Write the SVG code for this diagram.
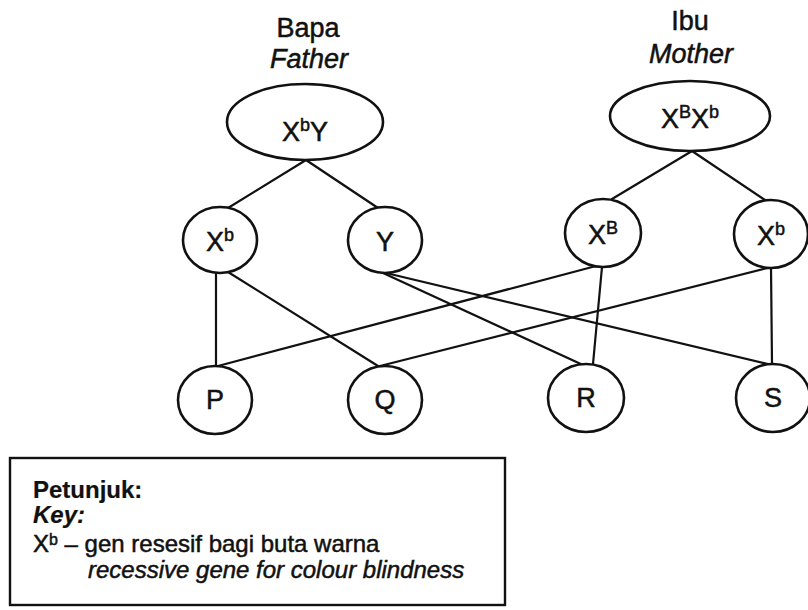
<svg xmlns="http://www.w3.org/2000/svg" width="808" height="610" viewBox="0 0 808 610">
<style>
.shape{fill:#fff;stroke:#111;stroke-width:2.6}
.ln{stroke:#111;stroke-width:2.2;fill:none;stroke-linecap:round}
text{font-family:"Liberation Sans",Arial,sans-serif;fill:#111;stroke:#111;stroke-width:0.5}
.node{font-size:27px;text-anchor:middle}
.title{font-size:27px;text-anchor:middle}
.it{font-style:italic}
.key{font-size:24px}
.b{font-weight:bold;stroke-width:0.2}
</style>
<rect width="808" height="610" fill="#fff"/>
<g id="labels">
<text class="title" x="308" y="37">Bapa</text>
<text class="title it" x="309" y="68">Father</text>
<text class="title" x="690" y="30">Ibu</text>
<text class="title it" x="691" y="63">Mother</text>
</g>
<g id="connectors">
<line class="ln" x1="306" y1="160" x2="228" y2="208"/>
<line class="ln" x1="306" y1="160" x2="378" y2="208"/>
<line class="ln" x1="692" y1="151" x2="612" y2="199"/>
<line class="ln" x1="692" y1="151" x2="765" y2="200"/>
<line class="ln" x1="216" y1="273" x2="216" y2="366"/>
<line class="ln" x1="228" y1="272" x2="378" y2="366"/>
<line class="ln" x1="383" y1="273" x2="583" y2="365"/>
<line class="ln" x1="386" y1="273" x2="768" y2="364"/>
<line class="ln" x1="596" y1="266" x2="218" y2="366"/>
<line class="ln" x1="602" y1="267" x2="593" y2="364"/>
<line class="ln" x1="771" y1="267" x2="380" y2="366"/>
<line class="ln" x1="771" y1="267" x2="772" y2="364"/>
</g>
<g id="father">
<ellipse class="shape" cx="305" cy="122" rx="78" ry="38"/>
<text class="node" x="305" y="141">X<tspan font-size="18" dy="-10">b</tspan><tspan dy="10">Y</tspan></text>
</g>
<g id="mother">
<ellipse class="shape" cx="690" cy="116" rx="80" ry="35"/>
<text class="node" x="690" y="128">X<tspan font-size="18" dy="-10">B</tspan><tspan dy="10">X</tspan><tspan font-size="18" dy="-10">b</tspan></text>
</g>
<g id="gamete-father-Xb">
<ellipse class="shape" cx="220" cy="240" rx="37" ry="33"/>
<text class="node" x="220" y="251">X<tspan font-size="18" dy="-10">b</tspan></text>
</g>
<g id="gamete-father-Y">
<ellipse class="shape" cx="385" cy="240" rx="37" ry="33"/>
<text class="node" x="385" y="251">Y</text>
</g>
<g id="gamete-mother-XB">
<ellipse class="shape" cx="603" cy="233" rx="38" ry="34"/>
<text class="node" x="603" y="244">X<tspan font-size="18" dy="-10">B</tspan></text>
</g>
<g id="gamete-mother-Xb">
<ellipse class="shape" cx="771" cy="234" rx="37" ry="34"/>
<text class="node" x="771" y="245">X<tspan font-size="18" dy="-10">b</tspan></text>
</g>
<g id="P">
<ellipse class="shape" cx="215" cy="400" rx="37" ry="34"/>
<text class="node" x="215" y="409">P</text>
</g>
<g id="Q">
<ellipse class="shape" cx="385" cy="400" rx="37" ry="34"/>
<text class="node" x="385" y="409">Q</text>
</g>
<g id="R">
<ellipse class="shape" cx="586" cy="398" rx="38" ry="34"/>
<text class="node" x="586" y="407">R</text>
</g>
<g id="S">
<ellipse class="shape" cx="773" cy="398" rx="37" ry="34"/>
<text class="node" x="773" y="407">S</text>
</g>
<g id="key">
<rect x="10" y="458" width="495" height="147" fill="#fff" stroke="#111" stroke-width="2.4"/>
<text class="key b" x="33" y="498">Petunjuk:</text>
<text class="key b it" x="33" y="523">Key:</text>
<text class="key" x="33" y="552">X<tspan font-size="16" dy="-7">b</tspan><tspan dy="7"> – gen resesif bagi buta warna</tspan></text>
<text class="key it" x="88" y="578">recessive gene for colour blindness</text>
</g>
</svg>
